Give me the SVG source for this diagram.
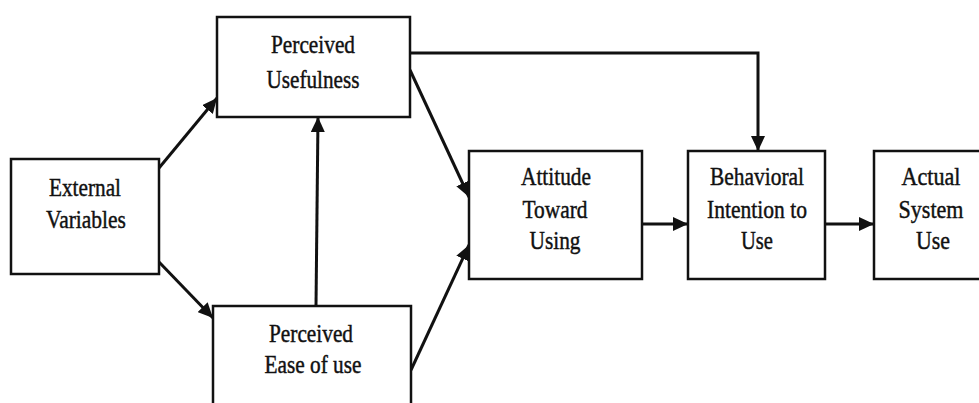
<svg xmlns="http://www.w3.org/2000/svg" width="979" height="403" viewBox="0 0 979 403">
<style>
.box{fill:#fff;stroke:#111;stroke-width:2.5}
.lbl{font-family:'Liberation Serif','Times New Roman','DejaVu Serif',serif;font-size:26px;fill:#111;stroke:#111;stroke-width:0.45;text-anchor:middle}
.con{fill:none;stroke:#111;stroke-width:3}
</style>
<defs>
<marker id="ah" markerUnits="userSpaceOnUse" markerWidth="15" markerHeight="14" refX="15" refY="7" orient="auto">
<path d="M0,0 L15,7 L0,14 z" fill="#111"/>
</marker>
</defs>
<rect width="979" height="403" fill="#fff"/>
<g id="connectors">
<path class="con" d="M159,168 L217,98" marker-end="url(#ah)"/>
<path class="con" d="M159,262 L213,318" marker-end="url(#ah)"/>
<path class="con" d="M316,306 L318,117" marker-end="url(#ah)"/>
<path class="con" d="M410,70 L469,197" marker-end="url(#ah)"/>
<path class="con" d="M411,370 L469,245" marker-end="url(#ah)"/>
<path class="con" d="M410,53 L758,53 L758,151" marker-end="url(#ah)"/>
<path class="con" d="M642,224 L688,224" marker-end="url(#ah)"/>
<path class="con" d="M825,224 L874,224" marker-end="url(#ah)"/>
</g>
<g id="external">
<rect class="box" x="11" y="159" width="148" height="115"/>
<text class="lbl" x="85" y="196" textLength="72" lengthAdjust="spacingAndGlyphs">External</text>
<text class="lbl" x="86" y="228" textLength="80" lengthAdjust="spacingAndGlyphs">Variables</text>
</g>
<g id="pu">
<rect class="box" x="217" y="17" width="193" height="100"/>
<text class="lbl" x="313" y="53" textLength="84" lengthAdjust="spacingAndGlyphs">Perceived</text>
<text class="lbl" x="313" y="88" textLength="93" lengthAdjust="spacingAndGlyphs">Usefulness</text>
</g>
<g id="peou">
<rect class="box" x="213" y="306" width="198" height="110"/>
<text class="lbl" x="311" y="342" textLength="84" lengthAdjust="spacingAndGlyphs">Perceived</text>
<text class="lbl" x="313" y="373" textLength="97" lengthAdjust="spacingAndGlyphs">Ease of use</text>
</g>
<g id="attitude">
<rect class="box" x="469" y="151" width="173" height="128"/>
<text class="lbl" x="556" y="185" textLength="70" lengthAdjust="spacingAndGlyphs">Attitude</text>
<text class="lbl" x="555" y="218" textLength="65" lengthAdjust="spacingAndGlyphs">Toward</text>
<text class="lbl" x="555" y="249" textLength="51" lengthAdjust="spacingAndGlyphs">Using</text>
</g>
<g id="bi">
<rect class="box" x="688" y="151" width="137" height="128"/>
<text class="lbl" x="757" y="185" textLength="94" lengthAdjust="spacingAndGlyphs">Behavioral</text>
<text class="lbl" x="757" y="218" textLength="100" lengthAdjust="spacingAndGlyphs">Intention to</text>
<text class="lbl" x="757" y="249" textLength="32" lengthAdjust="spacingAndGlyphs">Use</text>
</g>
<g id="actual">
<rect class="box" x="874" y="151" width="120" height="128"/>
<text class="lbl" x="931" y="185" textLength="59" lengthAdjust="spacingAndGlyphs">Actual</text>
<text class="lbl" x="931" y="218" textLength="65" lengthAdjust="spacingAndGlyphs">System</text>
<text class="lbl" x="933" y="249" textLength="34" lengthAdjust="spacingAndGlyphs">Use</text>
</g>
</svg>
